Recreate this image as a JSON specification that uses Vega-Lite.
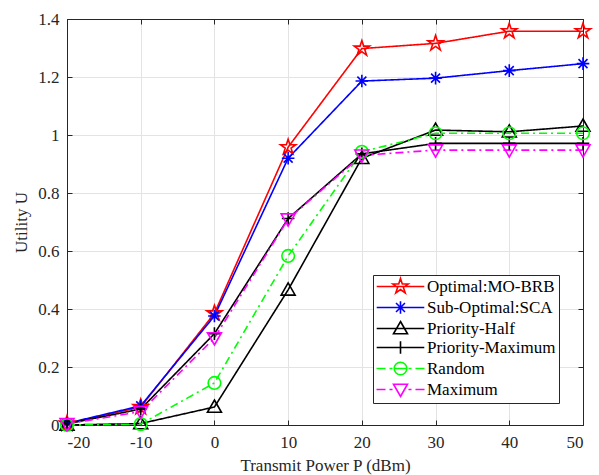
{
  "$schema": "https://vega.github.io/schema/vega-lite/v6.json",
  "width": 516,
  "height": 406,
  "autosize": "none",
  "padding": {"left": 67, "top": 19, "right": 16, "bottom": 50},
  "config": {
    "font": "Liberation Serif",
    "view": {"stroke": "#262626", "strokeWidth": 1},
    "axis": {
      "labelFont": "Liberation Serif",
      "titleFont": "Liberation Serif",
      "labelFontSize": 17,
      "titleFontSize": 17,
      "labelColor": "#262626",
      "titleColor": "#262626",
      "titleFontWeight": "normal",
      "domainColor": "#262626",
      "tickColor": "#262626",
      "gridColor": "#e3e3e3",
      "gridOpacity": 1,
      "tickSize": -5
    },
    "legend": {
      "orient": "none",
      "legendX": 306,
      "legendY": 256,
      "padding": 3,
      "strokeColor": "#262626",
      "fillColor": "white",
      "labelFont": "Liberation Serif",
      "labelFontSize": 17,
      "labelColor": "#000000",
      "symbolSize": 196,
      "symbolStrokeWidth": 1.6,
      "symbolOffset": 16,
      "labelOffset": 18,
      "rowPadding": 1
    }
  },
  "data": {
    "values": [
      {"series": "Optimal:MO-BRB", "x": -20, "y": 0.005},
      {"series": "Optimal:MO-BRB", "x": -10, "y": 0.062},
      {"series": "Optimal:MO-BRB", "x": 0, "y": 0.385},
      {"series": "Optimal:MO-BRB", "x": 10, "y": 0.958},
      {"series": "Optimal:MO-BRB", "x": 20, "y": 1.298},
      {"series": "Optimal:MO-BRB", "x": 30, "y": 1.316},
      {"series": "Optimal:MO-BRB", "x": 40, "y": 1.358},
      {"series": "Optimal:MO-BRB", "x": 50, "y": 1.358},
      {"series": "Sub-Optimal:SCA", "x": -20, "y": 0.006},
      {"series": "Sub-Optimal:SCA", "x": -10, "y": 0.066},
      {"series": "Sub-Optimal:SCA", "x": 0, "y": 0.376},
      {"series": "Sub-Optimal:SCA", "x": 10, "y": 0.92},
      {"series": "Sub-Optimal:SCA", "x": 20, "y": 1.186},
      {"series": "Sub-Optimal:SCA", "x": 30, "y": 1.196},
      {"series": "Sub-Optimal:SCA", "x": 40, "y": 1.222},
      {"series": "Sub-Optimal:SCA", "x": 50, "y": 1.246},
      {"series": "Priority-Half", "x": -20, "y": 0.0},
      {"series": "Priority-Half", "x": -10, "y": 0.005},
      {"series": "Priority-Half", "x": 0, "y": 0.062},
      {"series": "Priority-Half", "x": 10, "y": 0.466},
      {"series": "Priority-Half", "x": 20, "y": 0.92},
      {"series": "Priority-Half", "x": 30, "y": 1.017},
      {"series": "Priority-Half", "x": 40, "y": 1.011},
      {"series": "Priority-Half", "x": 50, "y": 1.031},
      {"series": "Priority-Maximum", "x": -20, "y": 0.004},
      {"series": "Priority-Maximum", "x": -10, "y": 0.055},
      {"series": "Priority-Maximum", "x": 0, "y": 0.315},
      {"series": "Priority-Maximum", "x": 10, "y": 0.712},
      {"series": "Priority-Maximum", "x": 20, "y": 0.935},
      {"series": "Priority-Maximum", "x": 30, "y": 0.971},
      {"series": "Priority-Maximum", "x": 40, "y": 0.971},
      {"series": "Priority-Maximum", "x": 50, "y": 0.971},
      {"series": "Random", "x": -20, "y": 0.0},
      {"series": "Random", "x": -10, "y": 0.003},
      {"series": "Random", "x": 0, "y": 0.145},
      {"series": "Random", "x": 10, "y": 0.583},
      {"series": "Random", "x": 20, "y": 0.942},
      {"series": "Random", "x": 30, "y": 1.006},
      {"series": "Random", "x": 40, "y": 1.006},
      {"series": "Random", "x": 50, "y": 1.006},
      {"series": "Maximum", "x": -20, "y": 0.004},
      {"series": "Maximum", "x": -10, "y": 0.046},
      {"series": "Maximum", "x": 0, "y": 0.3},
      {"series": "Maximum", "x": 10, "y": 0.71},
      {"series": "Maximum", "x": 20, "y": 0.93},
      {"series": "Maximum", "x": 30, "y": 0.948},
      {"series": "Maximum", "x": 40, "y": 0.948},
      {"series": "Maximum", "x": 50, "y": 0.948}
    ]
  },
  "layer": [
    {
      "mark": {"type": "line", "strokeWidth": 1.6},
      "encoding": {
        "x": {
          "field": "x", "type": "quantitative",
          "scale": {"domain": [-20, 50], "nice": false, "zero": false},
          "axis": {"values": [-20, -10, 0, 10, 20, 30, 40, 50], "labelExpr": "'' + datum.value", "title": "Transmit Power  P (dBm)", "grid": true, "labelPadding": 14, "titlePadding": 7}
        },
        "y": {
          "field": "y", "type": "quantitative",
          "scale": {"domain": [0, 1.4], "nice": false, "zero": false},
          "axis": {"values": [0, 0.2, 0.4, 0.6, 0.8, 1, 1.2, 1.4], "format": "~g", "title": "Utility  U", "grid": true, "labelPadding": 13, "titlePadding": 7}
        },
        "color": {
          "field": "series", "type": "nominal",
          "scale": {"domain": ["Optimal:MO-BRB", "Sub-Optimal:SCA", "Priority-Half", "Priority-Maximum", "Random", "Maximum"], "range": ["#ff0000", "#0000ff", "#000000", "#000000", "#00ff00", "#ff00ff"]},
          "legend": null
        },
        "strokeDash": {
          "field": "series", "type": "nominal",
          "scale": {"domain": ["Optimal:MO-BRB", "Sub-Optimal:SCA", "Priority-Half", "Priority-Maximum", "Random", "Maximum"], "range": [[1, 0], [1, 0], [1, 0], [1, 0], [8, 4, 2, 4], [8, 4, 2, 4]]},
          "legend": null
        }
      }
    },
    {
      "mark": {"type": "point", "filled": false, "size": 196, "strokeWidth": 1.6, "opacity": 1},
      "encoding": {
        "x": {"field": "x", "type": "quantitative", "axis": null},
        "y": {"field": "y", "type": "quantitative", "axis": null},
        "color": {
          "field": "series", "type": "nominal",
          "scale": {"domain": ["Optimal:MO-BRB", "Sub-Optimal:SCA", "Priority-Half", "Priority-Maximum", "Random", "Maximum"], "range": ["#ff0000", "#0000ff", "#000000", "#000000", "#00ff00", "#ff00ff"]},
          "legend": null
        },
        "shape": {
          "field": "series", "type": "nominal",
          "scale": {
            "domain": ["Optimal:MO-BRB", "Sub-Optimal:SCA", "Priority-Half", "Priority-Maximum", "Random", "Maximum"],
            "range": [
              "M0,-1.15L0.258,-0.355L1.094,-0.355L0.417,0.136L0.676,0.93L0,0.439L-0.676,0.93L-0.417,0.136L-1.094,-0.355L-0.258,-0.355Z",
              "M0,-0.9V0.9M-0.9,0H0.9M-0.64,-0.64L0.64,0.64M-0.64,0.64L0.64,-0.64",
              "M0,-1L1,0.75L-1,0.75Z",
              "M0,-0.9V0.9M-0.9,0H0.9",
              "M0.9,0A0.9,0.9,0,1,1,-0.9,0A0.9,0.9,0,1,1,0.9,0Z",
              "M0,1L1,-0.75L-1,-0.75Z"
            ]
          },
          "legend": null
        }
      }
    },
    {
      "transform": [{"filter": "false"}],
      "mark": {"type": "point", "filled": false, "size": 196, "strokeWidth": 1.6, "opacity": 1},
      "encoding": {
        "x": {"field": "x", "type": "quantitative", "axis": {"orient": "top", "labels": false, "title": null, "grid": false, "values": [-20, -10, 0, 10, 20, 30, 40, 50]}},
        "y": {"field": "y", "type": "quantitative", "axis": {"orient": "right", "labels": false, "title": null, "grid": false, "values": [0, 0.2, 0.4, 0.6, 0.8, 1, 1.2, 1.4]}},
        "color": {
          "field": "series", "type": "nominal",
          "scale": {"domain": ["Optimal:MO-BRB", "Sub-Optimal:SCA", "Priority-Half", "Priority-Maximum", "Random", "Maximum"], "range": ["#ff0000", "#0000ff", "#000000", "#000000", "#00ff00", "#ff00ff"]},
          "legend": {"title": null}
        },
        "shape": {
          "field": "series", "type": "nominal",
          "scale": {
            "domain": ["Optimal:MO-BRB", "Sub-Optimal:SCA", "Priority-Half", "Priority-Maximum", "Random", "Maximum"],
            "range": [
              "M-3.4,0H3.4M0,-1.15L0.258,-0.355L1.094,-0.355L0.417,0.136L0.676,0.93L0,0.439L-0.676,0.93L-0.417,0.136L-1.094,-0.355L-0.258,-0.355Z",
              "M-3.4,0H3.4M0,-0.9V0.9M-0.64,-0.64L0.64,0.64M-0.64,0.64L0.64,-0.64",
              "M-3.4,0H3.4M0,-1L1,0.75L-1,0.75Z",
              "M-3.4,0H3.4M0,-0.9V0.9",
              "M-3.43,0H-2.14M-1.57,0H-1.14M-0.9,0H0.9M1.14,0H1.57M2.14,0H3.43M0.9,0A0.9,0.9,0,1,1,-0.9,0A0.9,0.9,0,1,1,0.9,0Z",
              "M-3.43,0H-2.14M-1.57,0H-1.14M1.14,0H1.57M2.14,0H3.43M0,1L1,-0.75L-1,-0.75Z"
            ]
          },
          "legend": {"title": null}
        }
      }
    }
  ],
  "resolve": {
    "scale": {"shape": "independent", "color": "independent"},
    "axis": {"x": "independent", "y": "independent"}
  }
}
